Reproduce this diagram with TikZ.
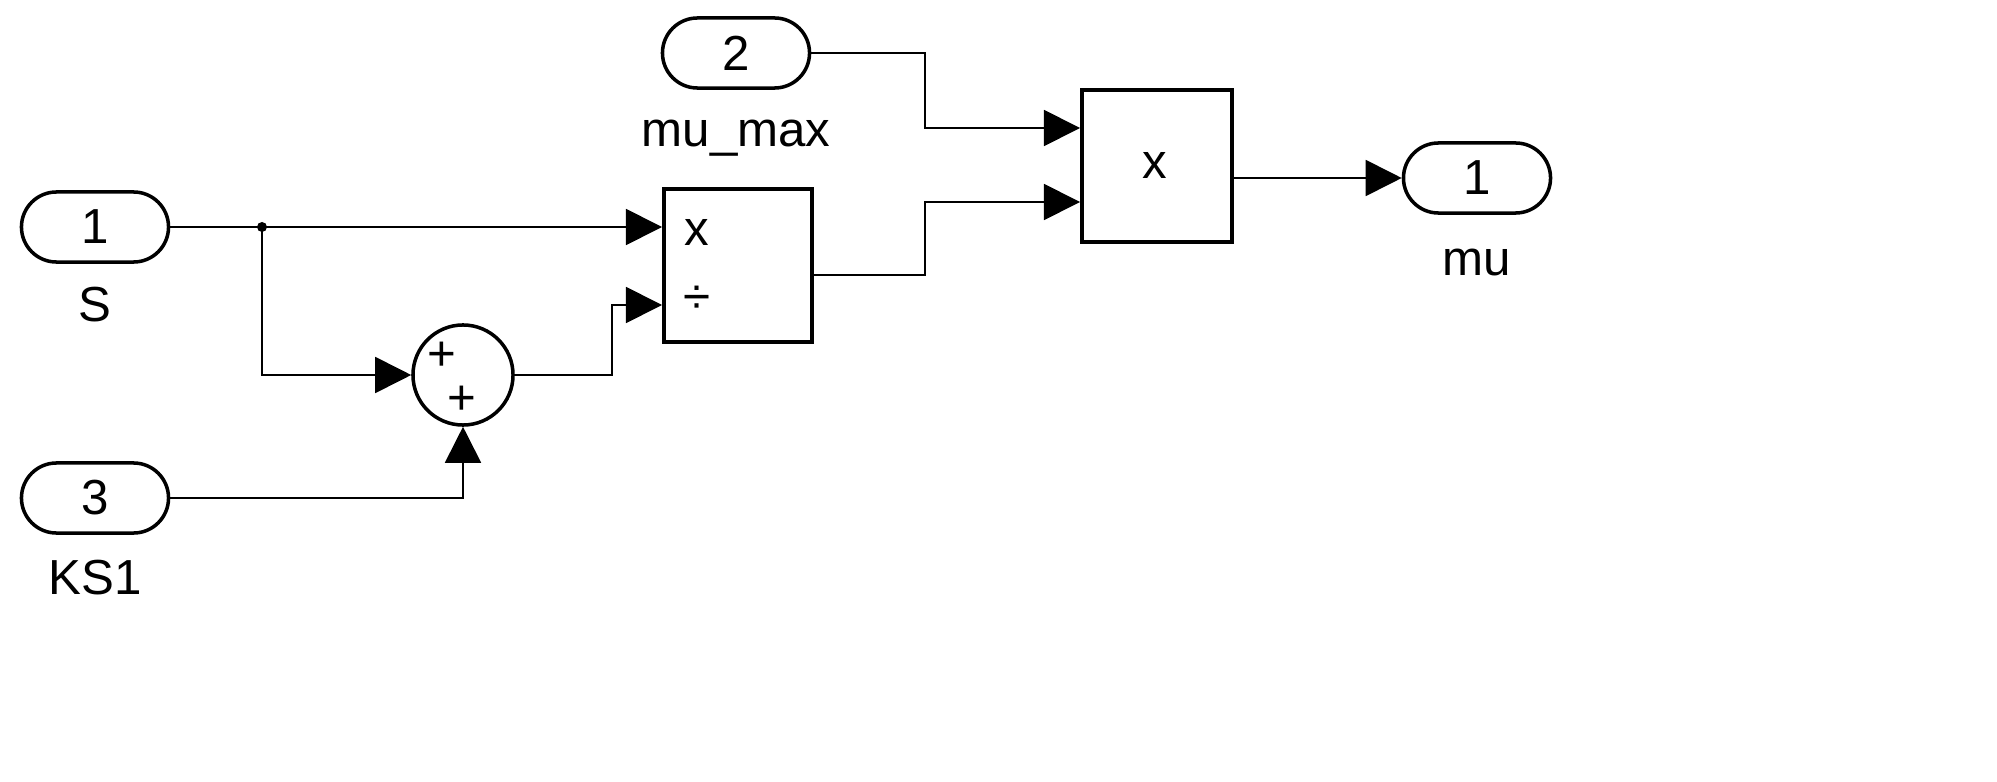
\documentclass[tikz,border=0pt]{standalone}
\usepackage{fontspec}
\setmainfont{Liberation Sans}
\usetikzlibrary{arrows.meta}
\begin{document}
\begin{tikzpicture}[x=0.01cm,y=-0.01cm,
  port/.style={draw,line width=1pt,rounded corners=0.35cm,minimum width=1.47cm,minimum height=0.7cm,font=\fontsize{14}{16}\selectfont},
  blk/.style={draw,line width=1pt,anchor=north west},
  lbl/.style={font=\fontsize{14}{16}\selectfont},
  sig/.style={line width=0.5pt,-{Triangle[length=0.36cm,width=0.36cm]}},
  wire/.style={line width=0.5pt}]
\useasboundingbox (0,0) rectangle (1997,782);
\node[port] (s) at (95,227) {1};
\node[lbl] at (95,305) {S};
\node[port] (ks) at (95,498) {3};
\node[lbl] at (95,578) {KS1};
\node[port] (mm) at (736,53) {2};
\node[lbl] at (736,138) {mu\_max};
\node[port] (mu) at (1477,178) {1};
\node[lbl] at (1477,262) {mu};
\node[blk,minimum width=1.48cm,minimum height=1.53cm] (p1) at (662,187) {};
\node[lbl] at (697,232) {x};
\node[lbl] at (697,300) {÷};
\node[blk,minimum width=1.5cm,minimum height=1.52cm] (p2) at (1080,88) {};
\node[lbl] at (1155,165) {x};
\node[draw,circle,line width=1pt,minimum size=1.0cm] (sum) at (463,375) {};
\node[lbl] at (442,356) {+};
\node[lbl] at (462,400) {+};
\coordinate (b) at (262,227);
\fill (b) circle (5);
\draw[sig] (s.east) -- (662,227);
\draw[sig] (b) |- (sum.west);
\draw[sig] (ks.east) -| (sum.south);
\draw[sig] (sum.east) -- (612,375) |- (662,305);
\draw[sig] (810,275) -- (925,275) |- (1080,202);
\draw[sig] (mm.east) -- (925,53) |- (1080,128);
\draw[sig] (1230,178) -- (mu.west);
\end{tikzpicture}
\end{document}
